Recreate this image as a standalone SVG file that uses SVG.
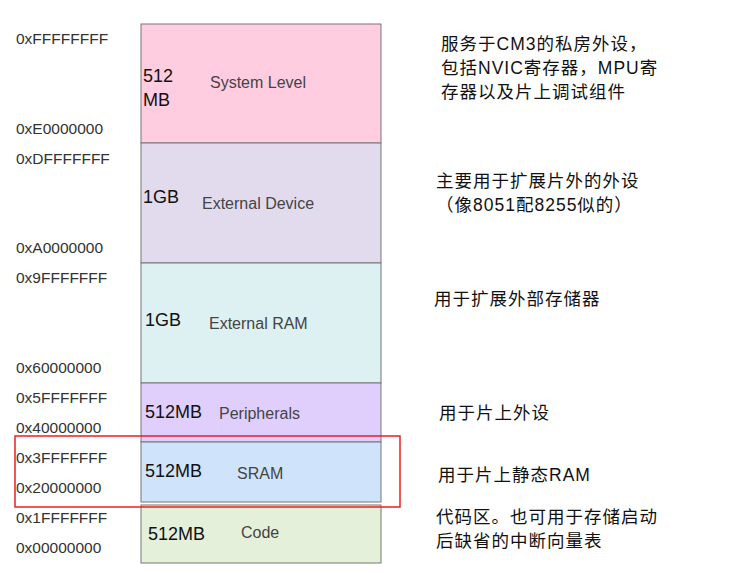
<svg xmlns="http://www.w3.org/2000/svg" width="739" height="574" viewBox="0 0 739 574">
<style>
.blk{stroke:#777;stroke-width:1}
.addr{font:15.5px "Liberation Sans",Arial,sans-serif;fill:#333}
.size{font:18px "Liberation Sans",Arial,sans-serif;fill:#111}
.name{font:16px "Liberation Sans",Arial,sans-serif;fill:#444}
.note{font:17.5px "Liberation Sans","Noto Sans CJK SC",sans-serif;fill:#111;letter-spacing:1px}
</style>
<rect width="739" height="574" fill="#fff"/>
<g id="system"><rect class="blk" x="141" y="24" width="240" height="119" fill="#FFCCE0"/><text class="size" x="143" y="82">512</text><text class="size" x="143" y="106">MB</text><text class="name" x="210" y="88">System Level</text></g>
<g id="extdev"><rect class="blk" x="141" y="143" width="240" height="120" fill="#E2DBEE"/><text class="size" x="143" y="203">1GB</text><text class="name" x="202" y="209">External Device</text></g>
<g id="extram"><rect class="blk" x="141" y="263" width="240" height="120" fill="#DDF0F2"/><text class="size" x="145" y="326">1GB</text><text class="name" x="209" y="329">External RAM</text></g>
<g id="periph"><rect class="blk" x="141" y="383" width="240" height="59" fill="#E0CFFC"/><text class="size" x="145" y="418">512MB</text><text class="name" x="219" y="419">Peripherals</text></g>
<g id="sram"><rect class="blk" x="141" y="442" width="240" height="60" fill="#CFE3FB"/><text class="size" x="145" y="477">512MB</text><text class="name" x="237" y="479">SRAM</text></g>
<g id="code"><rect class="blk" x="141" y="505" width="240" height="58" fill="#E5F0DA"/><text class="size" x="148" y="540">512MB</text><text class="name" x="241" y="538">Code</text></g>
<g id="addrs">
<text class="addr" x="16" y="44">0xFFFFFFFF</text>
<text class="addr" x="16" y="134">0xE0000000</text>
<text class="addr" x="16" y="164">0xDFFFFFFF</text>
<text class="addr" x="16" y="253">0xA0000000</text>
<text class="addr" x="16" y="283">0x9FFFFFFF</text>
<text class="addr" x="16" y="373">0x60000000</text>
<text class="addr" x="16" y="403">0x5FFFFFFF</text>
<text class="addr" x="16" y="433">0x40000000</text>
<text class="addr" x="16" y="463">0x3FFFFFFF</text>
<text class="addr" x="16" y="493">0x20000000</text>
<text class="addr" x="16" y="523">0x1FFFFFFF</text>
<text class="addr" x="16" y="553">0x00000000</text>
</g>
<g id="notes">
<text class="note" x="441" y="50">服务于CM3的私房外设，</text>
<text class="note" x="441" y="74">包括NVIC寄存器，MPU寄</text>
<text class="note" x="441" y="98">存器以及片上调试组件</text>
<text class="note" x="436" y="187">主要用于扩展片外的外设</text>
<text class="note" x="436" y="211">（像8051配8255似的）</text>
<text class="note" x="434" y="305">用于扩展外部存储器</text>
<text class="note" x="439" y="419">用于片上外设</text>
<text class="note" x="438" y="481">用于片上静态RAM</text>
<text class="note" x="436" y="523">代码区。也可用于存储启动</text>
<text class="note" x="436" y="547">后缺省的中断向量表</text>
</g>
<g id="connectors"><rect x="15" y="436" width="385" height="71" fill="none" stroke="#E82020" stroke-width="1.5"/></g>
</svg>
